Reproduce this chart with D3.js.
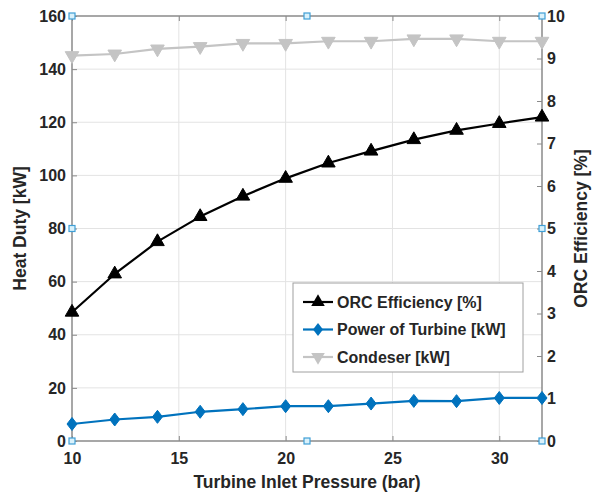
<!DOCTYPE html>
<html>
<head>
<meta charset="utf-8">
<script src="https://cdn.jsdelivr.net/npm/d3@7"></script>
<style>
  body { margin: 0; background: #fff; }
  text { font-family: "Liberation Sans", Arial, sans-serif; font-weight: bold; fill: #262626; }
</style>
</head>
<body>
<div id="chart"></div>
<script>
// data
var pressure = [10, 12, 14, 16, 18, 20, 22, 24, 26, 28, 30, 32];
var orcEfficiency = [3.03, 3.93, 4.69, 5.28, 5.76, 6.18, 6.54, 6.82, 7.09, 7.31, 7.47, 7.62]; // right axis, %
var turbinePower = [6.4, 8.1, 9.1, 11, 12, 13.1, 13.1, 14.1, 15.1, 15, 16.2, 16.2];   // left axis, kW
var condenser = [145.1, 145.7, 147.6, 148.5, 149.7, 149.7, 150.5, 150.5, 151.4, 151.4, 150.5, 150.5]; // left axis, kW

var xTicks = [10, 15, 20, 25, 30];
var leftTicks = [0, 20, 40, 60, 80, 100, 120, 140, 160];
var rightTicks = [0, 1, 2, 3, 4, 5, 6, 7, 8, 9, 10];

// MATLAB selection handles (light blue squares)
var handles = [[10, 0], [21, 0], [32, 0], [10, 80], [32, 80], [10, 160], [21, 160], [32, 160]];

var legendItems = [
	{ name: "ORC Efficiency [%]", color: "#000000", marker: "up" },
	{ name: "Power of Turbine [kW]", color: "#0072BD", marker: "diamond" },
	{ name: "Condeser [kW]", color: "#C4C4C4", marker: "down" }
];

var W = 599, H = 493;
var margin = { top: 16, right: 57, bottom: 52, left: 72 };
var width = W - margin.left - margin.right;
var height = H - margin.top - margin.bottom;

var svg = d3.select("#chart").append("svg")
	.attr("width", W)
	.attr("height", H);

var chart = svg.append("g")
	.attr("transform", "translate(" + margin.left + "," + margin.top + ")");

var x = d3.scaleLinear().domain([10, 32]).range([0, width]);
var yL = d3.scaleLinear().domain([0, 160]).range([height, 0]);
var yR = d3.scaleLinear().domain([0, 10]).range([height, 0]);

var axisColor = "#8a8a8a";
var gridColor = "#e3e3e3";

// grid
chart.append("g").selectAll("line")
	.data(xTicks.slice(1))
	.enter().append("line")
	.attr("x1", function(d) { return x(d); })
	.attr("x2", function(d) { return x(d); })
	.attr("y1", 0).attr("y2", height)
	.attr("stroke", gridColor).attr("stroke-width", 1);

chart.append("g").selectAll("line")
	.data(leftTicks.slice(1, -1))
	.enter().append("line")
	.attr("x1", 0).attr("x2", width)
	.attr("y1", function(d) { return yL(d); })
	.attr("y2", function(d) { return yL(d); })
	.attr("stroke", gridColor).attr("stroke-width", 1);

// axes
function styleAxis(g) {
	g.select(".domain").remove();
	g.selectAll(".tick line").attr("stroke", axisColor);
	g.selectAll(".tick text")
		.attr("font-size", "16px")
		.attr("fill", "#262626")
		.attr("font-family", "Liberation Sans, Arial, sans-serif")
		.attr("font-weight", "bold");
}

chart.append("g")
	.attr("transform", "translate(0," + height + ")")
	.call(d3.axisBottom(x).tickValues(xTicks).tickSize(-5).tickPadding(12).tickFormat(d3.format("d")))
	.call(styleAxis);

chart.append("g")
	.call(d3.axisTop(x).tickValues(xTicks).tickSize(-5).tickFormat(""))
	.call(styleAxis);

chart.append("g")
	.call(d3.axisLeft(yL).tickValues(leftTicks).tickSize(-5).tickPadding(6))
	.call(styleAxis);

chart.append("g")
	.attr("transform", "translate(" + width + ",0)")
	.call(d3.axisRight(yR).tickValues(rightTicks).tickSize(-5).tickPadding(5))
	.call(styleAxis);

// box
chart.append("rect")
	.attr("x", 0).attr("y", 0)
	.attr("width", width).attr("height", height)
	.attr("fill", "none")
	.attr("stroke", axisColor)
	.attr("stroke-width", 1.5);

// axis titles
svg.append("text")
	.attr("transform", "translate(" + (margin.left + width / 2) + "," + (H - 5) + ")")
	.attr("text-anchor", "middle")
	.attr("font-size", "17.5px")
	.text("Turbine Inlet Pressure (bar)");

svg.append("text")
	.attr("transform", "translate(26," + (margin.top + height / 2) + ") rotate(-90)")
	.attr("text-anchor", "middle")
	.attr("font-size", "17.5px")
	.text("Heat Duty [kW]");

svg.append("text")
	.attr("transform", "translate(587," + (margin.top + height / 2) + ") rotate(-90)")
	.attr("text-anchor", "middle")
	.attr("font-size", "17.5px")
	.text("ORC Efficiency [%]");

// markers
var symUp = d3.symbol().type(d3.symbolTriangle).size(80);
function markerPath(type) {
	if (type === "diamond") return "M0,-6.5L5,0L0,6.5L-5,0Z";
	return symUp();
}
function markerTransform(type, px, py) {
	var t = "translate(" + px + "," + py + ")";
	if (type === "down") t += " rotate(180)";
	return t;
}

function drawSeries(values, yScale, color, type) {
	var line = d3.line()
		.x(function(d, i) { return x(pressure[i]); })
		.y(function(d) { return yScale(d); });
	chart.append("path")
		.datum(values)
		.attr("d", line)
		.attr("fill", "none")
		.attr("stroke", color)
		.attr("stroke-width", 2.2)
		.attr("stroke-linejoin", "round");
	chart.append("g").selectAll("path")
		.data(values)
		.enter().append("path")
		.attr("d", markerPath(type))
		.attr("transform", function(d, i) { return markerTransform(type, x(pressure[i]), yScale(d)); })
		.attr("fill", color)
		.attr("stroke", color)
		.attr("stroke-width", 1);
}

drawSeries(condenser, yL, "#C4C4C4", "down");
drawSeries(turbinePower, yL, "#0072BD", "diamond");
drawSeries(orcEfficiency, yR, "#000000", "up");

// selection handles
chart.append("g").selectAll("rect")
	.data(handles)
	.enter().append("rect")
	.attr("x", function(d) { return x(d[0]) - 3; })
	.attr("y", function(d) { return yL(d[1]) - 3; })
	.attr("width", 6).attr("height", 6)
	.attr("fill", "#d9f1fb")
	.attr("stroke", "#3f9fd6")
	.attr("stroke-width", 1.2);

// legend
var legend = svg.append("g")
	.attr("transform", "translate(293,283)");

legend.append("rect")
	.attr("width", 230).attr("height", 89)
	.attr("fill", "#fff")
	.attr("stroke", "#a0a0a0")
	.attr("stroke-width", 1);

var rows = legend.selectAll(".row")
	.data(legendItems)
	.enter().append("g")
	.attr("class", "row")
	.attr("transform", function(d, i) { return "translate(0," + (19 + i * 27.5) + ")"; });

rows.append("line")
	.attr("x1", 10).attr("x2", 40)
	.attr("stroke", function(d) { return d.color; })
	.attr("stroke-width", 2.2);

rows.append("path")
	.attr("d", function(d) { return markerPath(d.marker); })
	.attr("transform", function(d) { return markerTransform(d.marker, 25, 0); })
	.attr("fill", function(d) { return d.color; });

rows.append("text")
	.attr("x", 44)
	.attr("dy", "0.36em")
	.attr("font-size", "16px")
	.text(function(d) { return d.name; });
</script>
</body>
</html>
